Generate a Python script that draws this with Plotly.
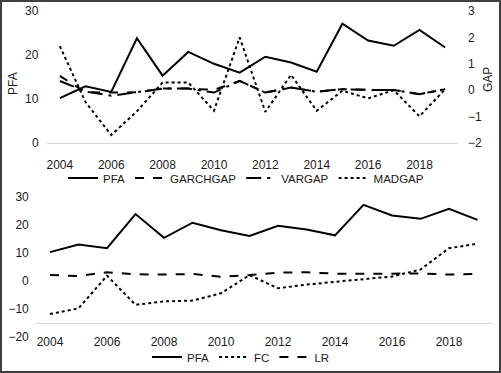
import plotly.graph_objects as go

years = list(range(2004, 2020))
tick_years = list(range(2004, 2019, 2))
pfa_ticks = [0, 10, 20, 30]

pfa = [10.2, 12.9, 11.6, 23.8, 15.3, 20.7, 18.0, 16.0, 19.6, 18.3, 16.2, 27.1, 23.3, 22.1, 25.7, 21.7]
garchgap = [0.54, -0.08, -0.09, -0.08, 0.06, 0.06, 0.01, 0.35, -0.09, 0.10, -0.06, 0.04, 0.01, 0.01, -0.15, 0.04]
vargap = [0.35, -0.05, -0.21, -0.08, 0.06, 0.06, -0.09, 0.35, -0.09, 0.10, -0.06, 0.04, 0.01, 0.01, -0.15, 0.04]
madgap = [1.67, -0.45, -1.70, -0.80, 0.29, 0.29, -0.78, 2.00, -0.82, 0.58, -0.78, -0.02, -0.31, 0.00, -0.99, 0.04]

fc = [-11.9, -9.9, 1.8, -8.6, -7.4, -7.1, -4.5, 2.0, -2.7, -1.4, -0.4, 0.5, 1.5, 4.0, 11.6, 13.2]
lr = [2.0, 1.7, 3.0, 2.3, 2.2, 2.4, 1.4, 2.0, 2.9, 3.0, 2.5, 2.4, 2.5, 2.6, 2.2, 2.4]

W, H = 501, 373
FONT = "Liberation Sans, Arial, sans-serif"
TXT = "#1a1a1a"
AXC = "#d9d9d9"

def py(pix):
    return (H - pix) / H

def px(pix):
    return pix / W

fig = go.Figure()
LW = 2
fig.add_trace(go.Scatter(x=years, y=pfa, name="PFA", mode="lines", line=dict(color="black", width=LW),
                         xaxis="x", yaxis="y", legend="legend"))
fig.add_trace(go.Scatter(x=years, y=garchgap, name="GARCHGAP", mode="lines", line=dict(color="black", width=LW, dash="dash"),
                         xaxis="x", yaxis="y2", legend="legend"))
fig.add_trace(go.Scatter(x=years, y=vargap, name="VARGAP", mode="lines", line=dict(color="black", width=LW, dash="longdashdot"),
                         xaxis="x", yaxis="y2", legend="legend"))
fig.add_trace(go.Scatter(x=years, y=madgap, name="MADGAP", mode="lines", line=dict(color="black", width=LW, dash="dot"),
                         xaxis="x", yaxis="y2", legend="legend"))

fig.add_trace(go.Scatter(x=years, y=pfa, name="PFA", mode="lines", line=dict(color="black", width=LW),
                         xaxis="x2", yaxis="y3", legend="legend2"))
fig.add_trace(go.Scatter(x=years, y=fc, name="FC", mode="lines", line=dict(color="black", width=LW, dash="dot"),
                         xaxis="x2", yaxis="y3", legend="legend2"))
fig.add_trace(go.Scatter(x=years, y=lr, name="LR", mode="lines", line=dict(color="black", width=LW, dash="dash"),
                         xaxis="x2", yaxis="y3", legend="legend2"))

tickfont = dict(family=FONT, size=12, color=TXT)

# left-axis tick labels of the top panel, placed on the axis' own scale
tick_annots = [dict(text=str(v), xref="paper", yref="y", x=px(41), y=v, xanchor="right", yanchor="middle",
                    showarrow=False, font=tickfont) for v in pfa_ticks]

fig.update_layout(
    template="none",
    width=W, height=H,
    margin=dict(l=0, r=0, t=0, b=0, autoexpand=False),
    paper_bgcolor="white", plot_bgcolor="white",
    font=dict(family=FONT, size=12, color=TXT),
    xaxis=dict(domain=[px(47), px(458)], range=[2003.5, 2019.5], tickvals=tick_years,
               showgrid=False, zeroline=False, showline=True, linecolor=AXC, linewidth=1,
               ticks="", tickfont=tickfont, anchor="y", ticklabelstandoff=11, automargin=False),
    yaxis=dict(domain=[py(143), py(11)], range=[0, 30], tickvals=pfa_ticks, showgrid=False, zeroline=False,
               ticks="", showticklabels=False, anchor="x", automargin=False),
    yaxis2=dict(range=[-2, 3], dtick=1, overlaying="y", side="right", anchor="x", showgrid=False,
                zeroline=False, ticks="", tickfont=tickfont, ticklabelstandoff=9, automargin=False),
    xaxis2=dict(domain=[px(35.75), px(491.75)], range=[2003.5, 2019.5], tickvals=tick_years,
                showgrid=False, zeroline=False, showline=True, linecolor=AXC, linewidth=1,
                ticks="", tickfont=tickfont, anchor="free", position=py(323), ticklabelstandoff=8,
                automargin=False),
    yaxis3=dict(domain=[py(336.7), py(196.7)], range=[-20, 30], dtick=10, showgrid=False, zeroline=False,
                ticks="", tickfont=tickfont, anchor="x2", ticklabelstandoff=6, automargin=False),
    legend=dict(orientation="h", x=px(246), xanchor="center", y=py(178), yanchor="middle",
                font=dict(family=FONT, size=11.5, color=TXT), bgcolor="rgba(0,0,0,0)",
                itemwidth=30, tracegroupgap=0),
    legend2=dict(orientation="h", x=px(241), xanchor="center", y=py(357), yanchor="middle",
                 font=dict(family=FONT, size=11.5, color=TXT), bgcolor="rgba(0,0,0,0)",
                 itemwidth=30, tracegroupgap=0),
    annotations=tick_annots + [
        dict(text="PFA", xref="paper", yref="paper", x=px(13), y=py(84), textangle=-90,
             showarrow=False, xanchor="center", yanchor="middle", font=dict(family=FONT, size=12, color=TXT)),
        dict(text="GAP", xref="paper", yref="paper", x=px(488), y=py(80), textangle=-90,
             showarrow=False, xanchor="center", yanchor="middle", font=dict(family=FONT, size=12, color=TXT)),
    ],
    shapes=[dict(type="rect", xref="paper", yref="paper", x0=0.002, x1=0.998, y0=0.003, y1=0.997,
                 line=dict(color="#404040", width=2), fillcolor="rgba(0,0,0,0)", layer="above")],
)

fig.write_html("out.html", config={"displayModeBar": False},
               post_script="document.body.style.margin='0';document.body.style.overflow='hidden';")
